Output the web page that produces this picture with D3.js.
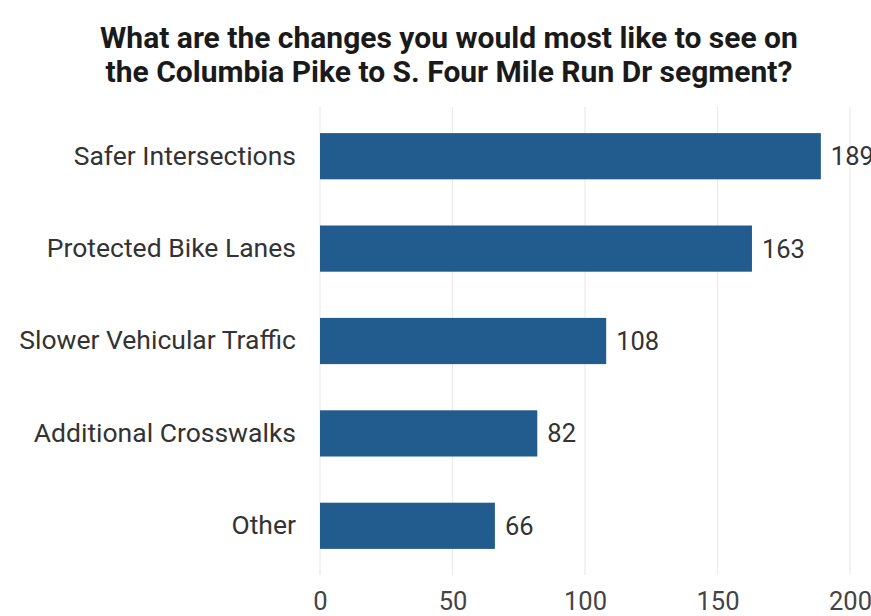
<!DOCTYPE html>
<html>
<head>
<meta charset="utf-8">
<script src="https://cdn.jsdelivr.net/npm/d3@7"></script>
<style>
  html, body { margin: 0; padding: 0; background: #fff; overflow: hidden; }
  svg { display: block; font-family: Roboto, "Noto Sans", sans-serif; }
</style>
</head>
<body>
<svg id="chart" width="871" height="616"></svg>
<script>
// Survey responses: preferred changes for the segment
const categories = ["Safer Intersections", "Protected Bike Lanes", "Slower Vehicular Traffic", "Additional Crosswalks", "Other"];
const counts = [189, 163, 108, 82, 66];
const xTicks = [0, 50, 100, 150, 200];
const titleLines = [
  "What are the changes you would most like to see on",
  "the Columbia Pike to S. Four Mile Run Dr segment?"
];

const svg = d3.select("#chart");
const data = categories.map((c, i) => ({ category: c, value: counts[i] }));

const x = d3.scaleLinear().domain([0, 200]).range([320, 850]);
const y = d3.scaleBand().domain(categories).range([110, 572]).paddingInner(0.5).paddingOuter(0.25);

// Title
svg.append("g")
  .selectAll("text")
  .data(titleLines)
  .join("text")
  .attr("x", 449)
  .attr("y", (d, i) => 48 + i * 34)
  .attr("text-anchor", "middle")
  .attr("font-size", 30)
  .attr("font-weight", 700)
  .attr("fill", "#1a1a1a")
  .text(d => d);

// Vertical grid lines
svg.append("g")
  .selectAll("line")
  .data(xTicks)
  .join("line")
  .attr("x1", d => x(d)).attr("x2", d => x(d))
  .attr("y1", 107).attr("y2", 575)
  .attr("stroke", "#ebebeb")
  .attr("stroke-width", 1.2);

// Bars
svg.append("g")
  .selectAll("rect")
  .data(data)
  .join("rect")
  .attr("x", x(0))
  .attr("y", d => y(d.category))
  .attr("width", d => x(d.value) - x(0))
  .attr("height", y.bandwidth())
  .attr("fill", "#225b8e");

// Value labels
svg.append("g")
  .selectAll("text")
  .data(data)
  .join("text")
  .attr("x", d => x(d.value) + 10)
  .attr("y", d => y(d.category) + y.bandwidth() / 2)
  .attr("dy", "0.35em")
  .attr("font-size", 25.5)
  .attr("fill", "#333")
  .text(d => d.value);

// Category axis
const yAxis = svg.append("g")
  .attr("transform", `translate(${x(0)},0)`)
  .call(d3.axisLeft(y).tickSize(0).tickPadding(24));
yAxis.select(".domain").remove();
yAxis.selectAll("text")
  .attr("font-size", 26.5)
  .attr("font-family", "Roboto, sans-serif")
  .attr("fill", "#333");

// Value axis
const xAxis = svg.append("g")
  .attr("transform", "translate(0,592)")
  .call(d3.axisBottom(x).tickValues(xTicks).tickSize(0).tickPadding(0));
xAxis.select(".domain").remove();
xAxis.selectAll("text")
  .attr("font-size", 25.5)
  .attr("font-family", "Roboto, sans-serif")
  .attr("fill", "#444");
</script>
</body>
</html>
